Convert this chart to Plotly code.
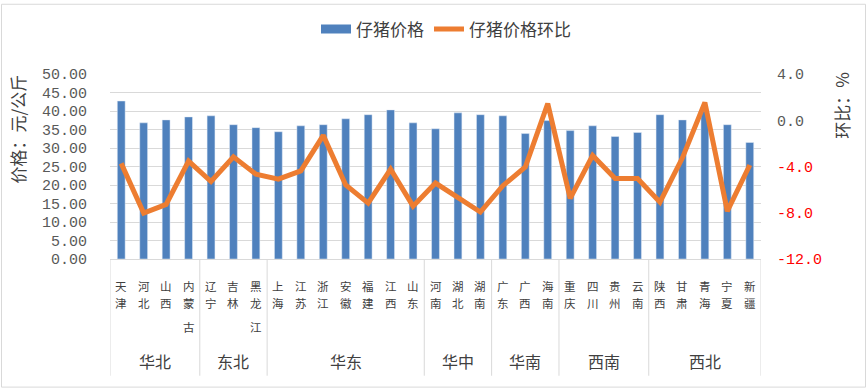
import plotly.graph_objects as go

provinces = ["天津","河北","山西","内蒙古","辽宁","吉林","黑龙江","上海","江苏","浙江","安徽","福建","江西","山东",
             "河南","湖北","湖南","广东","广西","海南","重庆","四川","贵州","云南","陕西","甘肃","青海","宁夏","新疆"]
regions = ["华北","东北","华东","华中","华南","西南","西北"]
region_sizes = [4, 3, 7, 3, 3, 4, 5]
price = [42.7, 36.8, 37.6, 38.4, 38.7, 36.3, 35.5, 34.4, 36.0, 36.3, 37.9, 39.0, 40.3, 36.8,
         35.2, 39.5, 39.0, 38.7, 33.9, 37.4, 34.7, 36.0, 33.1, 34.2, 39.0, 37.6, 40.0, 36.3, 31.5]
mom = [-3.73, -8.03, -7.28, -3.53, -5.30, -3.16, -4.67, -5.09, -4.38, -1.31, -5.60, -7.17, -4.24, -7.43,
       -5.43, -6.66, -7.94, -5.66, -4.04, 1.44, -6.75, -3.04, -5.04, -5.04, -7.09, -3.25, 1.53, -7.86, -3.87]
left_ticks = [0, 5, 10, 15, 20, 25, 30, 35, 40, 45, 50]
right_ticks = [-12, -8, -4, 0, 4]

BLUE = "#4F81BD"
ORANGE = "#ED7D31"
CJK = "Noto Sans CJK SC"
MONO = "Liberation Mono"

W, H = 867, 390
L, R, T, B = 110, 106, 72, 131
ph = H - T - B

def py(px):
    return (H - B - px) / ph

def pxx(px):
    return (px - L) / (W - L - R)

fig = go.Figure()
fig.add_trace(go.Bar(x=provinces, y=price, marker_color=BLUE, width=0.35, showlegend=False, name="仔猪价格"))
fig.add_trace(go.Scatter(x=[None], y=[None], mode="lines", line=dict(color=BLUE, width=9), name="仔猪价格"))
fig.add_trace(go.Scatter(x=provinces, y=mom, yaxis="y2", mode="lines", line=dict(color=ORANGE, width=5),
                         name="仔猪价格环比"))

right_text = []
for v in right_ticks:
    s = f"{v:.1f}"
    if v < 0:
        s = f"<span style='color:#FF0000'>{s}</span>"
    right_text.append(s)

annotations = []
row_y = [286.5, 303.5, 328]
for i, name in enumerate(provinces):
    for j, ch in enumerate(name):
        annotations.append(dict(x=i, y=py(row_y[j]), xref="x", yref="paper", text=ch, showarrow=False,
                                font=dict(family=CJK, size=11.5, color="#404040"), xanchor="center",
                                yanchor="middle"))

shapes = []
start = 0
bounds = [-0.5]
for name, n in zip(regions, region_sizes):
    center = start + (n - 1) / 2
    annotations.append(dict(x=center, y=py(362), xref="x", yref="paper", text=name, showarrow=False,
                            font=dict(family=CJK, size=16, color="#404040"), xanchor="center", yanchor="middle"))
    start += n
    bounds.append(start - 0.5)
for b in bounds:
    shapes.append(dict(type="line", xref="x", yref="paper", x0=b, x1=b, y0=0, y1=py(377),
                       line=dict(color="#D9D9D9", width=1)))

# axis titles
annotations.append(dict(x=pxx(17), y=py(128), xref="paper", yref="paper", text="价格：元/公斤", textangle=-90,
                        showarrow=False, font=dict(family=CJK, size=17, color="#404040"),
                        xanchor="center", yanchor="middle"))
annotations.append(dict(x=pxx(842), y=py(104), xref="paper", yref="paper", text="环比：%", textangle=-90,
                        showarrow=False, font=dict(family=CJK, size=17, color="#404040"),
                        xanchor="center", yanchor="middle"))

# outer border
shapes.append(dict(type="rect", xref="paper", yref="paper", x0=pxx(1.5), x1=pxx(865.5), y0=py(388.5), y1=py(1.5),
                   line=dict(color="#D9D9D9", width=1)))

fig.update_layout(
    width=W, height=H,
    margin=dict(l=L, r=R, t=T, b=B),
    paper_bgcolor="white", plot_bgcolor="white",
    font=dict(family=CJK, color="#404040"),
    xaxis=dict(type="category", range=[-0.5, 28.5], showticklabels=False, ticks="",
               showline=True, linecolor="#D9D9D9", linewidth=1, showgrid=False, zeroline=False),
    yaxis=dict(range=[0, 50], tickvals=left_ticks, tickformat=".2f", showgrid=True, gridcolor="#D9D9D9",
               gridwidth=1, zeroline=False, showline=False, ticks="", ticklabelstandoff=22,
               tickfont=dict(family=MONO, size=15, color="#595959")),
    yaxis2=dict(range=[-12, 4], overlaying="y", side="right", tickvals=right_ticks, ticktext=right_text,
                showgrid=False, zeroline=False, showline=False, ticks="", ticklabelstandoff=15,
                tickfont=dict(family=MONO, size=15, color="#595959")),
    legend=dict(orientation="h", x=pxx(446), xanchor="center", y=py(27), yanchor="middle",
                font=dict(family=CJK, size=17, color="#404040"), bgcolor="rgba(0,0,0,0)"),
    annotations=annotations,
    shapes=shapes,
)

fig.write_html("out.html", config={"displayModeBar": False},
               post_script="document.body.style.margin='0';document.body.style.overflow='hidden';")
